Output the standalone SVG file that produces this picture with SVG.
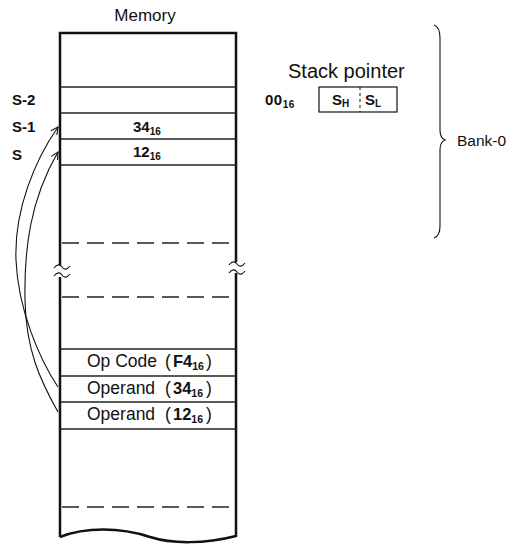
<svg xmlns="http://www.w3.org/2000/svg" width="518" height="545" viewBox="0 0 518 545">
<style>
  .t{font-family:"Liberation Sans",Arial,sans-serif;fill:#111}
  .b{font-weight:bold}
  .frame{fill:none;stroke:#111;stroke-width:2.5}
  .row{stroke:#222;stroke-width:1.3}
  .dash{stroke:#222;stroke-width:1.3;stroke-dasharray:17 8}
  .thin{fill:none;stroke:#111;stroke-width:1.1}
  .arrow{fill:none;stroke:#111;stroke-width:1.1;marker-end:url(#ah)}
</style>
<defs>
  <marker id="ah" viewBox="0 0 10 10" refX="9" refY="5" markerWidth="9" markerHeight="9" markerUnits="userSpaceOnUse" orient="auto">
    <path d="M1,1 L9,5 L1,9" fill="none" stroke="#111" stroke-width="1.2"/>
  </marker>
</defs>
<rect width="518" height="545" fill="#fff"/>

<g id="memory">
  <text class="t" x="145" y="21" font-size="17" text-anchor="middle">Memory</text>
  <path class="frame" d="M60,537 L60,277 M60,265 L60,33 L236,33 L236,262 M236,273 L236,537"/>
  <path class="frame" d="M60,537 C85,527 120,527 150,537 C172,544 205,544 236,536"/>
  <line class="row" x1="60" y1="87" x2="236" y2="87"/>
  <line class="row" x1="60" y1="113" x2="236" y2="113"/>
  <line class="row" x1="60" y1="139" x2="236" y2="139"/>
  <line class="row" x1="60" y1="165" x2="236" y2="165"/>
  <line class="dash" x1="62" y1="243" x2="236" y2="243"/>
  <line class="dash" x1="62" y1="297" x2="236" y2="297"/>
  <line class="row" x1="60" y1="349" x2="236" y2="349"/>
  <line class="row" x1="60" y1="376" x2="236" y2="376"/>
  <line class="row" x1="60" y1="402" x2="236" y2="402"/>
  <line class="row" x1="60" y1="429" x2="236" y2="429"/>
  <line class="dash" x1="62" y1="507" x2="236" y2="507"/>
  <path class="thin" stroke-width="1.6" d="M54,268 c3,-4 6,-4 8,-1 s5,3 8,-1 M54,276 c3,-4 6,-4 8,-1 s5,3 8,-1"/>
  <path class="thin" stroke-width="1.6" d="M229,265 c3,-4 6,-4 8,-1 s5,3 8,-1 M229,273 c3,-4 6,-4 8,-1 s5,3 8,-1"/>
</g>

<g id="labels" class="t b" font-size="15">
  <text x="12" y="105">S-2</text>
  <text x="12" y="132">S-1</text>
  <text x="12" y="160">S</text>
</g>

<g id="cell-34" class="t b">
  <text x="133" y="132" font-size="15">34<tspan font-size="10" dy="3">16</tspan></text>
</g>
<g id="cell-12" class="t b">
  <text x="133" y="157" font-size="15">12<tspan font-size="10" dy="3">16</tspan></text>
</g>

<g id="cell-opcode" class="t" font-size="17.5">
  <text x="87" y="367">Op Code<tspan x="165">(</tspan><tspan class="b" x="173" font-size="16.5">F4</tspan><tspan class="b" font-size="10.5" dy="3">16</tspan><tspan x="206" dy="-3">)</tspan></text>
</g>
<g id="cell-operand34" class="t" font-size="17.5">
  <text x="87" y="394">Operand<tspan x="165">(</tspan><tspan class="b" x="173" font-size="16.5">34</tspan><tspan class="b" font-size="10.5" dy="3">16</tspan><tspan x="206" dy="-3">)</tspan></text>
</g>
<g id="cell-operand12" class="t" font-size="17.5">
  <text x="87" y="420">Operand<tspan x="165">(</tspan><tspan class="b" x="173" font-size="16.5">12</tspan><tspan class="b" font-size="10.5" dy="3">16</tspan><tspan x="206" dy="-3">)</tspan></text>
</g>

<g id="stack-pointer">
  <text class="t" x="288" y="78" font-size="20">Stack pointer</text>
  <text class="t b" x="265" y="105" font-size="15" letter-spacing="0.5">00<tspan font-size="10" dy="3">16</tspan></text>
  <rect x="319" y="87" width="78" height="25" fill="none" stroke="#111" stroke-width="1.2"/>
  <line x1="360" y1="87" x2="360" y2="112" stroke="#111" stroke-width="1" stroke-dasharray="3 3"/>
  <text class="t b" x="332" y="105" font-size="15">S<tspan font-size="10" dy="2">H</tspan></text>
  <text class="t b" x="365" y="105" font-size="15">S<tspan font-size="10" dy="2">L</tspan></text>
</g>

<g id="bank0">
  <path class="thin" d="M434,25 Q440,27 440,38 L440,130 Q440,138 445,140 Q440,142 440,150 L440,226 Q440,236 434,238"/>
  <text class="t" x="457" y="146" font-size="15.5">Bank-0</text>
</g>

<g id="connectors">
  <path class="arrow" d="M58,387 C40,360 18,310 16,260 C14,210 35,160 58,127"/>
  <path class="arrow" d="M58,412 C40,380 26,350 25,300 C24,250 30,200 58,152"/>
</g>
</svg>
